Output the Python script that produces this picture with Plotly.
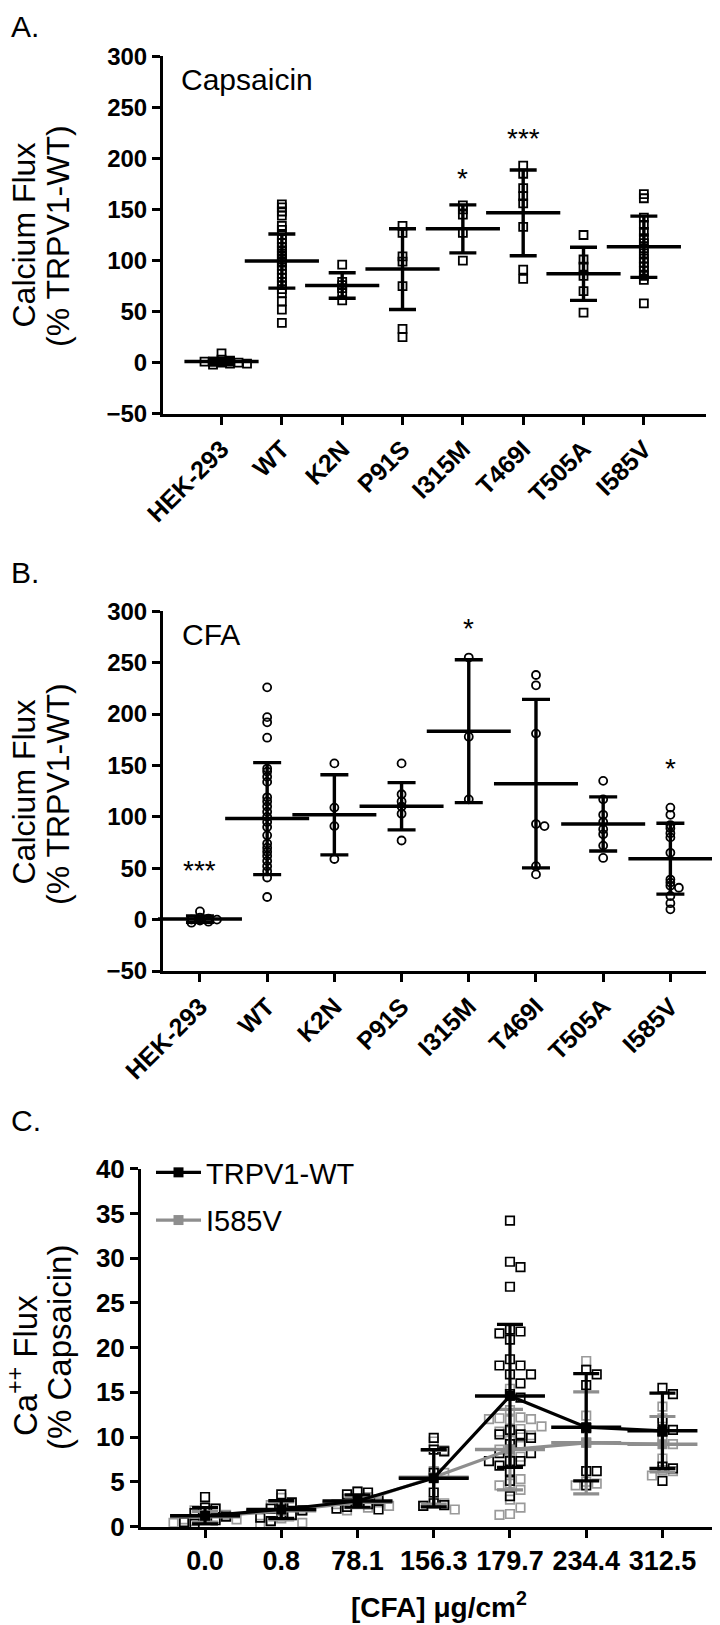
import plotly.graph_objects as go

W, H = 720, 1625
FONT = "Liberation Sans, Arial, sans-serif"

# ---------------- data ----------------
genotypes = ["HEK-293", "WT", "K2N", "P91S", "I315M", "T469I", "T505A", "I585V"]

# Panel A: Capsaicin (% TRPV1-WT)
cap_hek = [9, 3, 2, 1, 0, -1, -2, 0, 1, -1]
cap_wt = [155, 152, 148, 144, 134, 130, 125, 121, 117, 113, 110, 107, 104, 101, 98,
          95, 91, 87, 83, 79, 76, 72, 68, 60, 52, 39]
cap_k2n = [96, 79, 76, 73, 69, 61]
cap_p91s = [134, 127, 104, 99, 75, 33, 25]
cap_i315m = [154, 150, 145, 127, 100]
cap_t469i = [193, 185, 171, 163, 156, 133, 91, 82]
cap_t505a = [125, 101, 94, 85, 70, 49]
cap_i585v = [165, 161, 142, 135, 128, 122, 117, 112, 107, 102, 98, 94, 90, 85, 81, 58]
cap_mean = [1, 99.5, 75.6, 91.6, 131, 146.7, 87, 113.5]
cap_sd = [3, 26.5, 12.5, 39.5, 23.5, 42, 26, 30]
cap_stars = [("*", 4, 176), ("***", 5, 216)]

# Panel B: CFA (% TRPV1-WT)
cfa_hek = [8, 2, 1, 0, -1, -2, -3, 0]
cfa_wt = [226, 197, 192, 177, 147, 144, 139, 134, 119, 115, 110, 105, 100, 95, 90,
          82, 74, 70, 66, 62, 57, 52, 47, 41, 22]
cfa_k2n = [152, 109, 91, 59]
cfa_p91s = [152, 122, 115, 110, 103, 77]
cfa_i315m = [255, 178, 117]
cfa_t469i = [238, 228, 181, 93, 91, 52, 44]
cfa_t505a = [135, 117, 102, 95, 88, 83, 72, 60]
cfa_i585v = [109, 102, 92, 89, 84, 80, 65, 39, 36, 33, 31, 23, 16, 10]
cfa_mean = [0.5, 98.3, 102, 110.3, 183.3, 132.3, 93.1, 59.3]
cfa_sd = [3, 54.5, 39, 23, 69.5, 82, 26.3, 34.5]
cfa_stars = [("***", 0, 44.5), ("*", 4, 280.5), ("*", 7, 144.4)]

# Panel C: Ca++ flux (% Capsaicin) vs CFA dose
doses = ["0.0", "0.8", "78.1", "156.3", "179.7", "234.4", "312.5"]
wt_d0 = [3.3, 2.1, 2.0, 1.5, 1.1, 0.8, 0.7, 0.5, 0.3]
wt_d1 = [3.6, 2.7, 2.5, 2.0, 1.8, 1.4, 1.3, 1.0, 0.6]
wt_d2 = [3.9, 3.8, 3.6, 3.0, 2.8, 2.5, 2.2, 2.0, 1.9]
wt_d3 = [9.9, 8.6, 8.4, 6.0, 3.8, 2.6, 2.4, 2.3]
wt_d4 = [34.2, 29.6, 29.0, 26.8, 22.0, 21.8, 21.6, 20.9, 18.7, 18.0, 18.0, 17.0, 17.0,
         16.0, 14.8, 14.4, 10.8, 10.3, 10.3, 9.9, 9.2, 9.2, 8.2, 8.2, 7.3, 7.3, 7.3,
         6.8, 6.2, 5.1, 3.4]
wt_d5 = [17.5, 17.0, 15.8, 11.0, 6.2, 6.2, 4.6]
wt_d6 = [15.5, 14.8, 11.8, 10.8, 10.6, 6.7, 6.5, 5.1]
wt_mean = [1.2, 1.9, 2.85, 5.4, 14.6, 11.1, 10.7]
wt_sd = [0.9, 1.0, 0.7, 3.2, 8.0, 6.0, 4.2]

mu_d0 = [2.2, 2.0, 1.8, 1.3, 1.0, 0.9, 0.8, 0.8, 0.6, 0.4]
mu_d1 = [3.2, 2.6, 2.4, 2.0, 1.8, 1.2, 0.9, 0.6, 0.4, 0.3]
mu_d2 = [3.9, 3.3, 3.1, 2.8, 2.7, 2.5, 2.3, 2.1, 1.8]
mu_d3 = [9.5, 8.5, 6.2, 6.0, 2.85, 2.6, 2.3, 1.9]
mu_d4 = [15.4, 13.0, 12.2, 12.1, 12.0, 12.0, 11.9, 11.2, 10.9, 10.7, 10.6, 10.2, 9.6,
         9.0, 8.6, 8.4, 7.8, 6.2, 5.3, 4.8, 4.6, 4.1, 3.0, 2.1, 1.4, 1.3]
mu_d5 = [18.5, 12.4, 9.4, 5.0, 4.8, 4.6]
mu_d6 = [13.4, 12.1, 9.7, 9.2, 7.6, 6.3, 6.2, 5.7]
mu_mean = [1.1, 1.75, 2.7, 5.5, 8.6, 9.35, 9.2]
mu_sd = [0.6, 1.0, 0.6, 3.0, 4.5, 5.7, 3.1]

cap_groups = [cap_hek, cap_wt, cap_k2n, cap_p91s, cap_i315m, cap_t469i, cap_t505a, cap_i585v]
cfa_groups = [cfa_hek, cfa_wt, cfa_k2n, cfa_p91s, cfa_i315m, cfa_t469i, cfa_t505a, cfa_i585v]
wt_groups = [wt_d0, wt_d1, wt_d2, wt_d3, wt_d4, wt_d5, wt_d6]
mu_groups = [mu_d0, mu_d1, mu_d2, mu_d3, mu_d4, mu_d5, mu_d6]

GRAY = "#8e8e8e"
GRAY_PT = "#9a9a9a"


def fx(px):
    return px / W


def fy(py):
    return 1 - py / H


def swarm(vals, px_y, px_x, step, thresh):
    """Simple beeswarm offsets (in category units)."""
    placed = []
    offs = []
    for v in vals:
        yp = v * px_y
        k = 0
        while True:
            c = 0 if k == 0 else ((k + 1) // 2) * (1 if k % 2 == 1 else -1)
            xo = c * step
            ok = all(abs(xo - p[0]) >= step * 0.99 or abs(yp - p[1]) >= thresh for p in placed)
            if ok:
                break
            k += 1
        placed.append((xo, yp))
        offs.append(xo / px_x)
    return offs


fig = go.Figure()


def add_scatter_panel(groups, means, sds, xa, ya, symbol, px_y, px_x, meanw, capw):
    xs, ys = [], []
    for i, g in enumerate(groups):
        offs = swarm(g, px_y, px_x, 8.5, 2.5)
        xs += [i + o for o in offs]
        ys += g
    fig.add_trace(go.Scatter(
        x=xs, y=ys, mode="markers", xaxis=xa, yaxis=ya, showlegend=False,
        cliponaxis=False, hoverinfo="skip",
        marker=dict(symbol=symbol, size=8, color="black", line=dict(width=1.8, color="black"))))
    fig.add_trace(go.Scatter(
        x=list(range(len(means))), y=means, mode="markers", xaxis=xa, yaxis=ya,
        showlegend=False, cliponaxis=False,
        marker=dict(symbol="line-ew", size=meanw, color="black",
                    line=dict(width=3.5, color="black")),
        error_y=dict(type="data", array=sds, visible=True, color="black",
                     thickness=3.4, width=capw)))


add_scatter_panel(cap_groups, cap_mean, cap_sd, "x", "y", "square-open", 1.021, 60.33, 53, 13.5)
add_scatter_panel(cfa_groups, cfa_mean, cfa_sd, "x2", "y2", "circle-open", 1.028, 67.2, 60, 14)

# Panel C points
for groups, col in ((mu_groups, GRAY_PT), (wt_groups, "black")):
    xs, ys = [], []
    for i, g in enumerate(groups):
        offs = swarm(g, 8.945, 76.2, 10.5, 9.5)
        xs += [i + o for o in offs]
        ys += g
    fig.add_trace(go.Scatter(
        x=xs, y=ys, mode="markers", xaxis="x3", yaxis="y3", showlegend=False,
        cliponaxis=False, hoverinfo="skip",
        marker=dict(symbol="square-open", size=8.5, color=col, line=dict(width=1.7, color=col))))

for means, sds, col, name, rank in ((mu_mean, mu_sd, GRAY, "I585V", 2),
                                    (wt_mean, wt_sd, "black", "TRPV1-WT", 1)):
    xi = list(range(len(means)))
    fig.add_trace(go.Scatter(
        x=xi, y=means, mode="markers", xaxis="x3", yaxis="y3", showlegend=False,
        cliponaxis=False,
        marker=dict(symbol="line-ew", size=50, color=col, line=dict(width=3.5, color=col)),
        error_y=dict(type="data", array=sds, visible=True, color=col, thickness=3.2, width=13)))
    fig.add_trace(go.Scatter(
        x=xi, y=means, mode="lines+markers", xaxis="x3", yaxis="y3", name=name,
        legendgroup=name, legendrank=rank, cliponaxis=False,
        line=dict(color=col, width=3.2),
        marker=dict(symbol="square", size=10, color=col)))

axis_common = dict(showline=True, linewidth=3, linecolor="black", ticks="outside",
                   ticklen=8, tickwidth=3, tickcolor="black", showgrid=False,
                   zeroline=False, fixedrange=True, automargin=False)
tick_bold = dict(family=FONT, size=24, color="black", weight="bold")
cat_bold = dict(family=FONT, size=25, color="black", weight="bold")

fig.update_layout(
    width=W, height=H, margin=dict(l=0, r=0, t=0, b=0, autoexpand=False),
    paper_bgcolor="white", plot_bgcolor="white",
    font=dict(family=FONT, color="black"),
    xaxis=dict(domain=[fx(155), fx(698)], range=[-0.97, 8.03], anchor="y",
               tickmode="array", tickvals=list(range(8)), ticktext=genotypes,
               tickangle=-45, tickfont=cat_bold, **axis_common),
    yaxis=dict(domain=[fy(405.7), fy(48.3)], range=[-50, 300], anchor="x",
               tickmode="array", tickvals=list(range(-50, 301, 50)),
               tickfont=tick_bold, **axis_common),
    xaxis2=dict(domain=[fx(155), fx(698)], range=[-0.55, 7.53], anchor="y2",
                tickmode="array", tickvals=list(range(8)), ticktext=genotypes,
                tickangle=-45, tickfont=cat_bold, **axis_common),
    yaxis2=dict(domain=[fy(963), fy(603.3)], range=[-50, 300], anchor="x2",
                tickmode="array", tickvals=list(range(-50, 301, 50)),
                tickfont=tick_bold, **axis_common),
    xaxis3=dict(domain=[fx(133), 1.0], range=[-0.84, 6.86], anchor="y3",
                tickmode="array", tickvals=list(range(7)), ticktext=doses,
                tickangle=0, tickfont=dict(family=FONT, size=27, color="black", weight="bold"),
                **axis_common),
    yaxis3=dict(domain=[fy(1518.5), fy(1160.7)], range=[0, 40], anchor="x3",
                tickmode="array", tickvals=list(range(0, 41, 5)),
                tickfont=dict(family=FONT, size=26, color="black", weight="bold"),
                **axis_common),
    legend=dict(x=fx(143), y=fy(1139), xanchor="left", yanchor="top",
                font=dict(family=FONT, size=29, color="black"),
                bgcolor="rgba(0,0,0,0)", itemwidth=45, tracegroupgap=7),
    showlegend=True,
)

ann = []
def txt(text, x, y, size, xanchor="center", yanchor="middle", angle=0, bold=False,
        xref="paper", yref="paper", yshift=0):
    ann.append(dict(text=text, x=x, y=y, xref=xref, yref=yref, showarrow=False,
                    xanchor=xanchor, yanchor=yanchor, textangle=angle, yshift=yshift,
                    font=dict(family=FONT, size=size, color="black",
                              weight="bold" if bold else "normal")))

txt("A.", fx(1), fy(0), 30, xanchor="left", yanchor="top")
txt("B.", fx(1), fy(564), 30, xanchor="left")
txt("C.", fx(1), fy(1112), 30, xanchor="left")
txt("Capsaicin", fx(171), fy(71), 30, xanchor="left")
txt("CFA", fx(172), fy(626), 30, xanchor="left")
# rotated axis titles, one line each
txt("Calcium Flux", fx(15.5), fy(227), 32, angle=-90)
txt("(% TRPV1-WT)", fx(50), fy(228), 32, angle=-90)
txt("Calcium Flux", fx(15.5), fy(784), 32, angle=-90)
txt("(% TRPV1-WT)", fx(50), fy(786), 32, angle=-90)
txt("Ca<sup>++</sup> Flux", fx(15), fy(1358), 33, angle=-90)
txt("(% Capsaicin)", fx(51), fy(1340), 33, angle=-90)
txt("[CFA] \u03bcg/cm<sup>2</sup>", fx(431), fy(1597), 28, bold=True)
for s, xi, yv in cap_stars:
    txt(s, xi, yv, 28, xref="x", yref="y", yshift=4)
for s, xi, yv in cfa_stars:
    txt(s, xi, yv, 28, xref="x2", yref="y2", yshift=3)
fig.update_layout(annotations=ann)

fig.write_html("out.html")
